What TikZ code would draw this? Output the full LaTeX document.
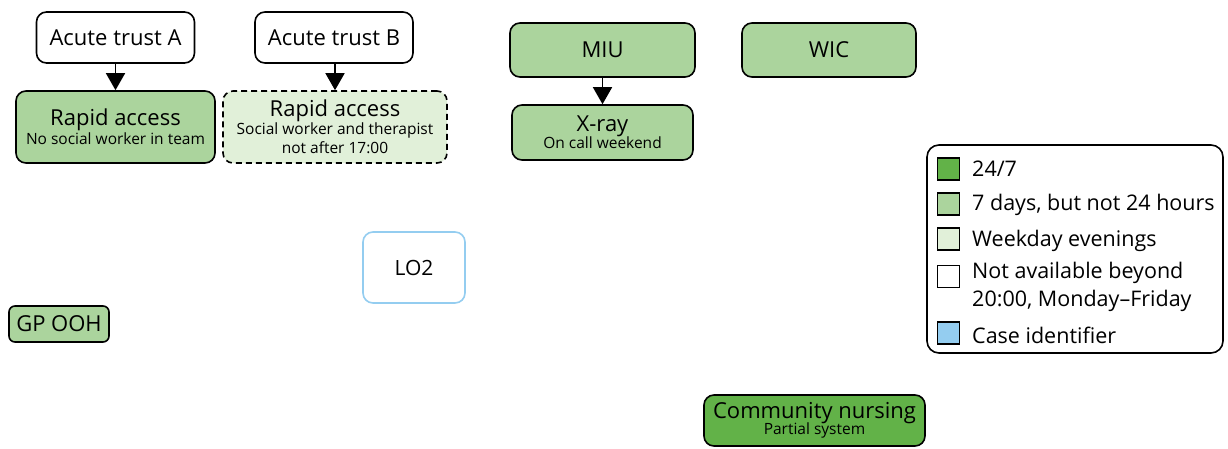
\documentclass[tikz,border=0pt]{standalone}
\usepackage{fontspec}
\setmainfont{Open Sans}
\usetikzlibrary{arrows.meta}
\definecolor{availFull}{RGB}{98,178,72}
\definecolor{availWeek}{RGB}{171,212,157}
\definecolor{availEve}{RGB}{225,240,217}
\definecolor{caseBlue}{RGB}{148,205,240}
\newcommand{\subline}[1]{{\fontsize{15.5}{17}\selectfont #1}}
\begin{document}
\begin{tikzpicture}[x=1pt,y=-1pt,
  box/.style={draw=black, line width=1.6pt, rounded corners=10pt, inner sep=0pt, align=center},
  bigtxt/.style={font=\fontsize{22}{24}\selectfont},
  flow/.style={line width=1.6pt, -{Triangle[width=19pt,length=17pt]}},
  key/.style={draw=black, line width=1.4pt, minimum size=22pt, inner sep=0pt},
  keytxt/.style={anchor=west, inner sep=0pt, font=\fontsize{21.5}{28}\selectfont, align=left}
]
\useasboundingbox (0,0) rectangle (1228,448);

% acute trusts and their rapid access teams
\node[box, bigtxt, fill=white, minimum width=158pt, minimum height=51pt] (acA) at (115.5,37.5) {Acute trust A};
\node[box, bigtxt, fill=white, minimum width=158pt, minimum height=51pt] (acB) at (334,37.5) {Acute trust B};
\node[box, bigtxt, fill=availWeek, minimum width=199pt, minimum height=72pt] (raA) at (115.5,127)
  {Rapid access\\[-5pt]\subline{No social worker in team}};
\node[box, bigtxt, fill=availEve, dash pattern=on 6pt off 4pt, minimum width=224pt, minimum height=72pt] (raB) at (335,127)
  {Rapid access\\[-6pt]\subline{Social worker and therapist}\\[-5pt]\subline{not after 17:00}};
\draw[flow] (acA) -- (raA);
\draw[flow] (acB.south -| raB.north) -- (raB.north);

% minor injuries unit and walk-in centre
\node[box, bigtxt, fill=availWeek, minimum width=185pt, minimum height=54pt] (miu) at (602.5,50) {MIU};
\node[box, bigtxt, fill=availWeek, minimum width=181pt, minimum height=55pt] (xray) at (602.5,132.5)
  {X-ray\\[-7pt]\subline{On call weekend}};
\draw[flow] (miu) -- (xray);
\node[box, bigtxt, fill=availWeek, minimum width=174pt, minimum height=54pt] (wic) at (829,50) {WIC};

% case identifier
\node[box, draw=caseBlue, font=\fontsize{21}{24}\selectfont, fill=white, minimum width=102pt, minimum height=71pt] (lo2) at (414,267.5) {LO2};

% out of hours and community services
\node[box, bigtxt, rounded corners=6pt, fill=availWeek, minimum width=100pt, minimum height=36pt] (gp) at (59,324) {GP OOH};
\node[box, bigtxt, fill=availFull, minimum width=221pt, minimum height=51pt] (cn) at (814.5,420.5)
  {Community nursing\\[-8pt]\subline{Partial system}};

% key
\node[draw=black, line width=1.6pt, rounded corners=12pt, minimum width=296pt, minimum height=208pt, inner sep=0pt] (legend) at (1075,249) {};
\node[key, fill=availFull] (k1) at (948.5,169) {};
\node[key, fill=availWeek] (k2) at (948.5,204) {};
\node[key, fill=availEve] (k3) at (948.5,239) {};
\node[key, fill=white] (k4) at (948.5,276.5) {};
\node[key, fill=caseBlue] (k5) at (948.5,333) {};
\node[keytxt] (t1) at (972,169) {24/7};
\node[keytxt] (t2) at (972,205) {7 days, but not 24 hours};
\node[keytxt] (t3) at (972,241) {Weekday evenings};
\node[keytxt, anchor=north west] (t4) at (972,262) {Not available beyond\\20:00, Monday–Friday};
\node[keytxt] (t5) at (972,335) {Case identifier};
\end{tikzpicture}
\end{document}
